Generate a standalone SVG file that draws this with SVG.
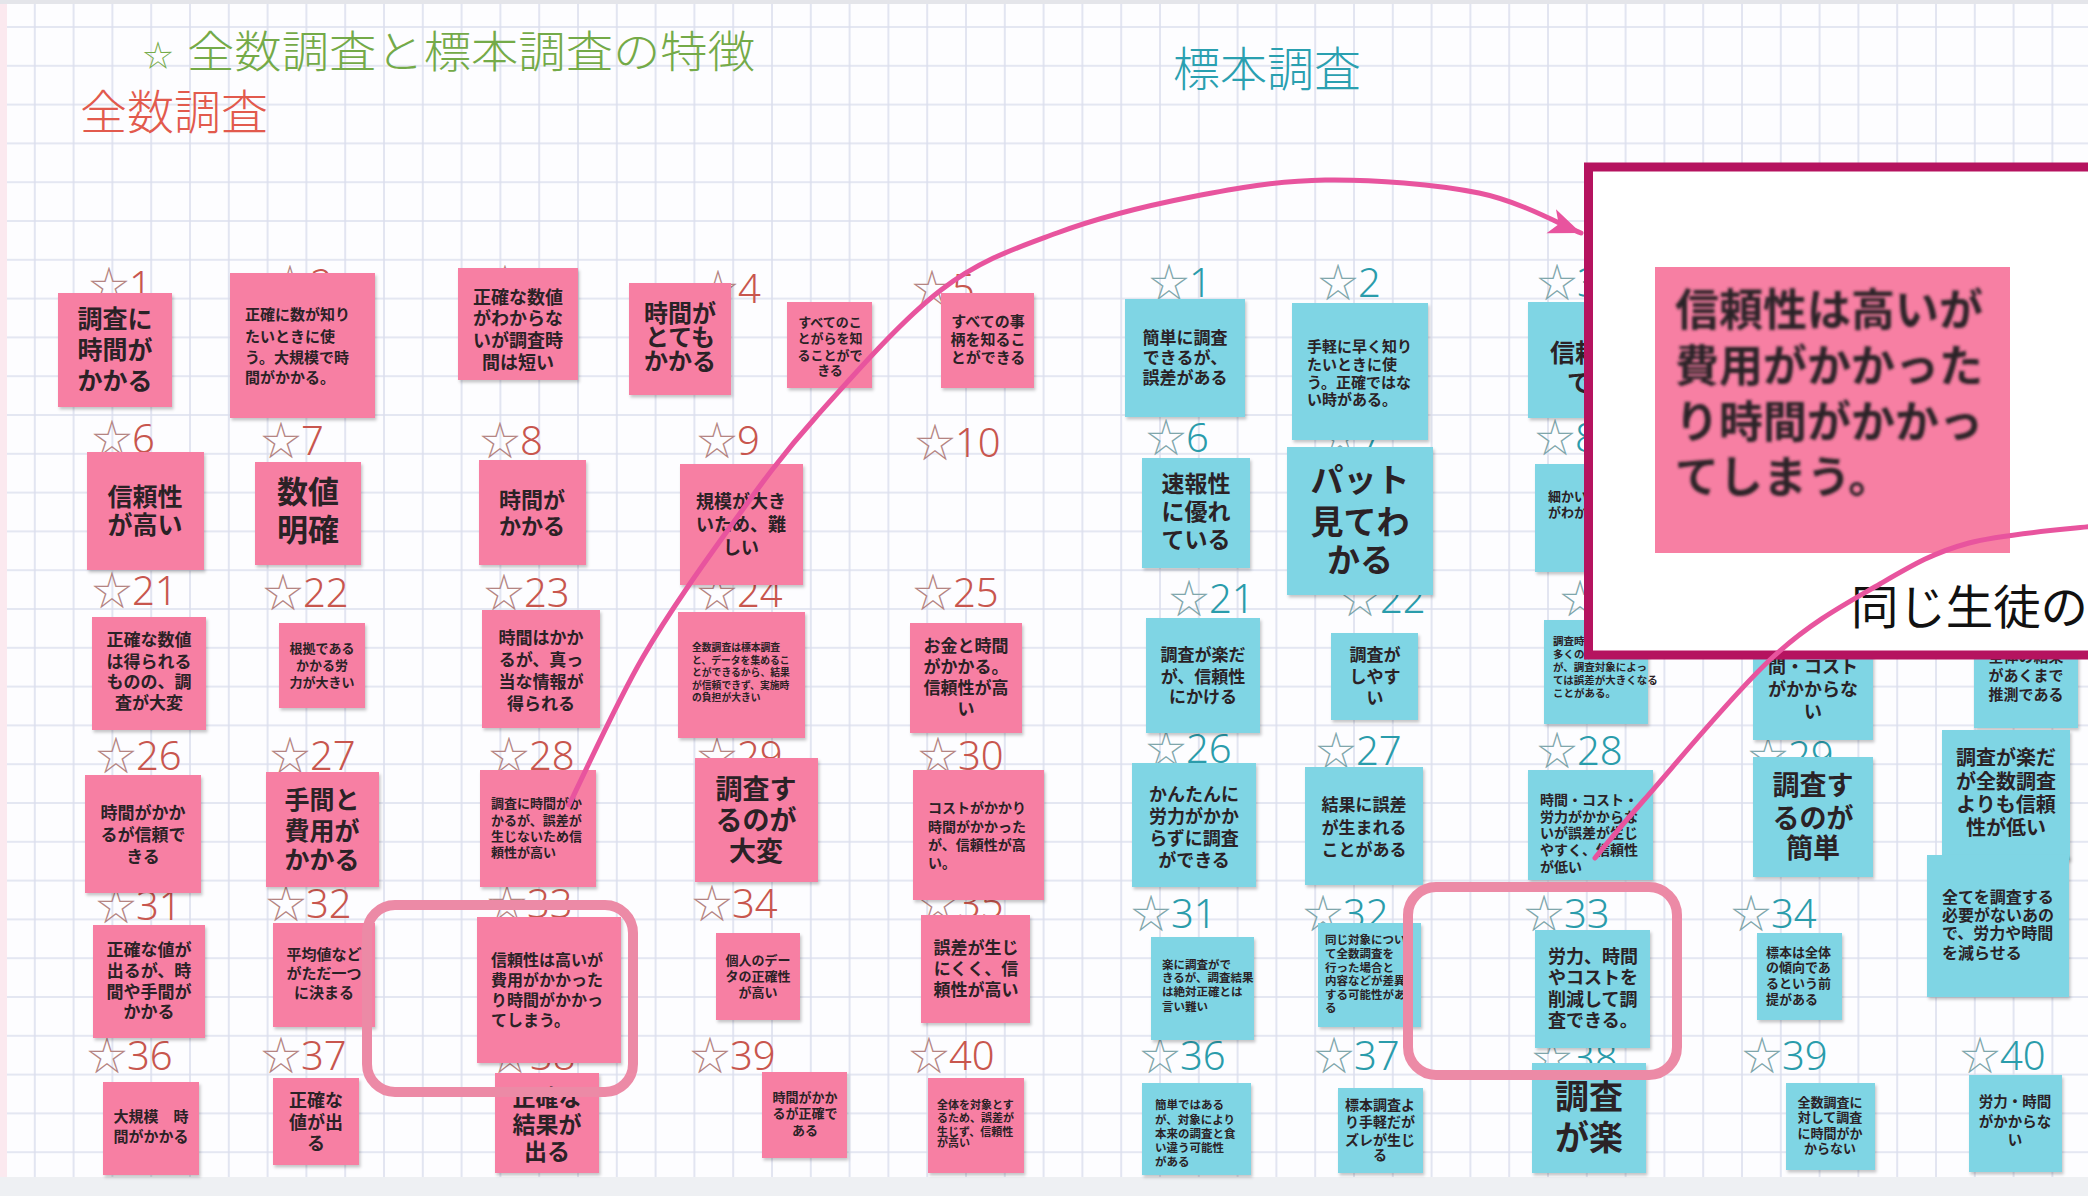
<svg xmlns="http://www.w3.org/2000/svg" width="2088" height="1196" viewBox="0 0 2088 1196">
<defs>
<pattern id="grid" width="38.8" height="38.8" patternUnits="userSpaceOnUse" x="33.8" y="26">
<path d="M1 0V38.8M0 1H38.8" fill="none" stroke="#dcdfee" stroke-width="1.6"/>
</pattern>
<filter id="sh" x="-10%" y="-10%" width="130%" height="130%"><feDropShadow dx="1.5" dy="2.5" stdDeviation="1.5" flood-color="#000" flood-opacity="0.22"/></filter>
<filter id="bl" x="-5%" y="-5%" width="110%" height="110%"><feGaussianBlur stdDeviation="1.4"/></filter>
<marker id="ah" markerUnits="userSpaceOnUse" markerWidth="36" markerHeight="30" refX="32" refY="15" orient="auto"><path d="M0 2 L32 15 L0 28 L8 15 Z" fill="#e8549e"/></marker>
<style>
.pk{fill:#f77fa3;filter:url(#sh)}
.tl{fill:#7fd5e4;filter:url(#sh)}
.nt{font-family:"Noto Sans CJK JP","Noto Sans CJK SC",sans-serif;font-weight:700;fill:#2b2226}
.c{text-anchor:middle}
.lp{font-family:"Noto Sans","Noto Sans CJK JP",sans-serif;font-size:40px;font-weight:300;fill:#c8564e}
.lt{font-family:"Noto Sans","Noto Sans CJK JP",sans-serif;font-size:40px;font-weight:300;fill:#2a9cab}
.sp{fill:#b48482;font-family:"Noto Sans CJK JP",sans-serif}
.st{fill:#7fa6ab;font-family:"Noto Sans CJK JP",sans-serif}
.hl{fill:none;stroke:#ec8aa6;stroke-width:10}
.cn{fill:none;stroke:#e8549e;stroke-width:5;stroke-linecap:round}
.ttl{font-family:"Noto Sans CJK JP","Noto Sans CJK SC",sans-serif;font-weight:300}
</style>
</defs>
<rect width="2088" height="1196" fill="#fdfdff"/>
<rect width="2088" height="1196" fill="url(#grid)"/>
<rect x="0" y="0" width="7" height="1196" fill="#fbe9ef"/>
<rect x="0" y="0" width="2088" height="4" fill="#e4e5ea"/>
<rect x="0" y="1177" width="2088" height="19" fill="#eef0f3"/>

<g id="titles">
<text class="ttl" x="143" y="66" font-size="30" fill="#74aa48">☆</text>
<text class="ttl" x="187" y="68" font-size="44" textLength="568" lengthAdjust="spacingAndGlyphs" fill="#74aa48">全数調査と標本調査の特徴</text>
<text class="ttl" x="80" y="129" font-size="47" textLength="188" lengthAdjust="spacingAndGlyphs" fill="#e25a4d">全数調査</text>
<text class="ttl" x="1173" y="86" font-size="47" textLength="188" lengthAdjust="spacingAndGlyphs" fill="#2aa0b0">標本調査</text>
</g>

<g id="labels">
<text class="lp" x="89" y="300"><tspan class="sp">☆</tspan>1</text>
<text class="lp" x="270" y="298"><tspan class="sp">☆</tspan>2</text>
<text class="lp" x="485" y="298"><tspan class="sp">☆</tspan>3</text>
<text class="lp" x="698" y="303"><tspan class="sp">☆</tspan>4</text>
<text class="lp" x="912" y="303"><tspan class="sp">☆</tspan>5</text>
<text class="lp" x="92" y="453"><tspan class="sp">☆</tspan>6</text>
<text class="lp" x="261" y="455"><tspan class="sp">☆</tspan>7</text>
<text class="lp" x="480" y="455"><tspan class="sp">☆</tspan>8</text>
<text class="lp" x="697" y="455"><tspan class="sp">☆</tspan>9</text>
<text class="lp" x="915" y="457"><tspan class="sp">☆</tspan>10</text>
<text class="lp" x="92" y="605"><tspan class="sp">☆</tspan>21</text>
<text class="lp" x="263" y="607"><tspan class="sp">☆</tspan>22</text>
<text class="lp" x="484" y="607"><tspan class="sp">☆</tspan>23</text>
<text class="lp" x="697" y="607"><tspan class="sp">☆</tspan>24</text>
<text class="lp" x="913" y="607"><tspan class="sp">☆</tspan>25</text>
<text class="lp" x="96" y="770"><tspan class="sp">☆</tspan>26</text>
<text class="lp" x="270" y="770"><tspan class="sp">☆</tspan>27</text>
<text class="lp" x="489" y="770"><tspan class="sp">☆</tspan>28</text>
<text class="lp" x="697" y="770"><tspan class="sp">☆</tspan>29</text>
<text class="lp" x="918" y="770"><tspan class="sp">☆</tspan>30</text>
<text class="lp" x="96" y="920"><tspan class="sp">☆</tspan>31</text>
<text class="lp" x="266" y="918"><tspan class="sp">☆</tspan>32</text>
<text class="lp" x="487" y="918"><tspan class="sp">☆</tspan>33</text>
<text class="lp" x="692" y="918"><tspan class="sp">☆</tspan>34</text>
<text class="lp" x="918" y="918"><tspan class="sp">☆</tspan>35</text>
<text class="lp" x="87" y="1070"><tspan class="sp">☆</tspan>36</text>
<text class="lp" x="261" y="1070"><tspan class="sp">☆</tspan>37</text>
<text class="lp" x="490" y="1070"><tspan class="sp">☆</tspan>38</text>
<text class="lp" x="690" y="1070"><tspan class="sp">☆</tspan>39</text>
<text class="lp" x="909" y="1070"><tspan class="sp">☆</tspan>40</text>
<text class="lt" x="1149" y="297"><tspan class="st">☆</tspan>1</text>
<text class="lt" x="1318" y="297"><tspan class="st">☆</tspan>2</text>
<text class="lt" x="1537" y="297"><tspan class="st">☆</tspan>3</text>
<text class="lt" x="1146" y="452"><tspan class="st">☆</tspan>6</text>
<text class="lt" x="1320" y="452"><tspan class="st">☆</tspan>7</text>
<text class="lt" x="1535" y="452"><tspan class="st">☆</tspan>8</text>
<text class="lt" x="1169" y="613"><tspan class="st">☆</tspan>21</text>
<text class="lt" x="1340" y="613"><tspan class="st">☆</tspan>22</text>
<text class="lt" x="1560" y="613"><tspan class="st">☆</tspan>23</text>
<text class="lt" x="1146" y="763"><tspan class="st">☆</tspan>26</text>
<text class="lt" x="1316" y="765"><tspan class="st">☆</tspan>27</text>
<text class="lt" x="1537" y="765"><tspan class="st">☆</tspan>28</text>
<text class="lt" x="1748" y="770"><tspan class="st">☆</tspan>29</text>
<text class="lt" x="1131" y="928"><tspan class="st">☆</tspan>31</text>
<text class="lt" x="1303" y="928"><tspan class="st">☆</tspan>32</text>
<text class="lt" x="1524" y="928"><tspan class="st">☆</tspan>33</text>
<text class="lt" x="1731" y="928"><tspan class="st">☆</tspan>34</text>
<text class="lt" x="1140" y="1070"><tspan class="st">☆</tspan>36</text>
<text class="lt" x="1314" y="1070"><tspan class="st">☆</tspan>37</text>
<text class="lt" x="1532" y="1072"><tspan class="st">☆</tspan>38</text>
<text class="lt" x="1742" y="1070"><tspan class="st">☆</tspan>39</text>
<text class="lt" x="1960" y="1070"><tspan class="st">☆</tspan>40</text>
</g>

<g id="p1"><rect class="pk" x="58" y="293" width="114" height="114"/><text class="nt c" font-size="25"><tspan x="115" y="328">調査に</tspan><tspan x="115" y="359">時間が</tspan><tspan x="115" y="390">かかる</tspan></text></g>
<g id="p2"><rect class="pk" x="230" y="273" width="145" height="145"/><text class="nt" font-size="15"><tspan x="245" y="320">正確に数が知り</tspan><tspan x="245" y="342">たいときに使</tspan><tspan x="245" y="363">う。大規模で時</tspan><tspan x="245" y="383">間がかかる。</tspan></text></g>
<g id="p3"><rect class="pk" x="458" y="268" width="120" height="112"/><text class="nt c" font-size="18"><tspan x="518" y="304">正確な数値</tspan><tspan x="518" y="325">がわからな</tspan><tspan x="518" y="347">いが調査時</tspan><tspan x="518" y="369">間は短い</tspan></text></g>
<g id="p4"><rect class="pk" x="629" y="283" width="102" height="112"/><text class="nt c" font-size="24"><tspan x="680" y="322">時間が</tspan><tspan x="680" y="346">とても</tspan><tspan x="680" y="370">かかる</tspan></text></g>
<g id="p4b"><rect class="pk" x="787" y="302" width="85" height="86"/><text class="nt c" font-size="13"><tspan x="830" y="327">すべてのこ</tspan><tspan x="830" y="343">とがらを知</tspan><tspan x="830" y="360">ることがで</tspan><tspan x="830" y="375">きる</tspan></text></g>
<g id="p5"><rect class="pk" x="941" y="293" width="93" height="95"/><text class="nt c" font-size="15"><tspan x="988" y="327">すべての事</tspan><tspan x="988" y="345">柄を知るこ</tspan><tspan x="988" y="363">とができる</tspan></text></g>
<g id="p6"><rect class="pk" x="87" y="452" width="117" height="118"/><text class="nt c" font-size="25"><tspan x="145" y="506">信頼性</tspan><tspan x="145" y="534">が高い</tspan></text></g>
<g id="p7"><rect class="pk" x="255" y="462" width="106" height="103"/><text class="nt c" font-size="31"><tspan x="308" y="503">数値</tspan><tspan x="308" y="541">明確</tspan></text></g>
<g id="p8"><rect class="pk" x="479" y="460" width="107" height="105"/><text class="nt c" font-size="22"><tspan x="532" y="508">時間が</tspan><tspan x="532" y="534">かかる</tspan></text></g>
<g id="p9"><rect class="pk" x="680" y="464" width="123" height="121"/><text class="nt c" font-size="18"><tspan x="741" y="508">規模が大き</tspan><tspan x="741" y="531">いため、難</tspan><tspan x="741" y="554">しい</tspan></text></g>
<g id="p21"><rect class="pk" x="92" y="617" width="114" height="113"/><text class="nt c" font-size="17"><tspan x="149" y="646">正確な数値</tspan><tspan x="149" y="668">は得られる</tspan><tspan x="149" y="688">ものの、調</tspan><tspan x="149" y="709">査が大変</tspan></text></g>
<g id="p22"><rect class="pk" x="279" y="623" width="86" height="85"/><text class="nt c" font-size="13"><tspan x="322" y="653">根拠である</tspan><tspan x="322" y="670">かかる労</tspan><tspan x="322" y="687">力が大きい</tspan></text></g>
<g id="p23"><rect class="pk" x="482" y="610" width="118" height="118"/><text class="nt c" font-size="17"><tspan x="541" y="644">時間はかか</tspan><tspan x="541" y="666">るが、真っ</tspan><tspan x="541" y="688">当な情報が</tspan><tspan x="541" y="710">得られる</tspan></text></g>
<g id="p24"><rect class="pk" x="678" y="612" width="127" height="126"/><text class="nt" font-size="9.8"><tspan x="692" y="651">全数調査は標本調査</tspan><tspan x="692" y="663.5">と、データを集めるこ</tspan><tspan x="692" y="676">とができるから、結果</tspan><tspan x="692" y="688.5">が信頼できず、実施時</tspan><tspan x="692" y="701">の負担が大きい</tspan></text></g>
<g id="p25"><rect class="pk" x="910" y="623" width="112" height="110"/><text class="nt c" font-size="17"><tspan x="966" y="652">お金と時間</tspan><tspan x="966" y="673">がかかる。</tspan><tspan x="966" y="694">信頼性が高</tspan><tspan x="966" y="715">い</tspan></text></g>
<g id="p26"><rect class="pk" x="85" y="775" width="116" height="118"/><text class="nt c" font-size="17"><tspan x="143" y="819">時間がかか</tspan><tspan x="143" y="841">るが信頼で</tspan><tspan x="143" y="863">きる</tspan></text></g>
<g id="p27"><rect class="pk" x="266" y="772" width="113" height="115"/><text class="nt c" font-size="25"><tspan x="322" y="809">手間と</tspan><tspan x="322" y="840">費用が</tspan><tspan x="322" y="869">かかる</tspan></text></g>
<g id="p28"><rect class="pk" x="480" y="770" width="116" height="117"/><text class="nt" font-size="13"><tspan x="491" y="808">調査に時間がか</tspan><tspan x="491" y="825">かるが、誤差が</tspan><tspan x="491" y="841">生じないため信</tspan><tspan x="491" y="857">頼性が高い</tspan></text></g>
<g id="p29"><rect class="pk" x="695" y="758" width="123" height="124"/><text class="nt c" font-size="27"><tspan x="756" y="799">調査す</tspan><tspan x="756" y="830">るのが</tspan><tspan x="756" y="861">大変</tspan></text></g>
<g id="p30"><rect class="pk" x="913" y="770" width="131" height="130"/><text class="nt" font-size="14"><tspan x="928" y="813">コストがかかり</tspan><tspan x="928" y="832">時間がかかった</tspan><tspan x="928" y="850">が、信頼性が高</tspan><tspan x="928" y="868">い。</tspan></text></g>
<g id="p31"><rect class="pk" x="93" y="925" width="112" height="113"/><text class="nt c" font-size="17"><tspan x="149" y="956">正確な値が</tspan><tspan x="149" y="977">出るが、時</tspan><tspan x="149" y="998">間や手間が</tspan><tspan x="149" y="1018">かかる</tspan></text></g>
<g id="p32"><rect class="pk" x="273" y="923" width="102" height="104"/><text class="nt c" font-size="15"><tspan x="324" y="960">平均値など</tspan><tspan x="324" y="979">がただ一つ</tspan><tspan x="324" y="998">に決まる</tspan></text></g>
<g id="p33"><rect class="pk" x="477" y="917" width="144" height="146"/><text class="nt" font-size="16"><tspan x="491" y="966">信頼性は高いが</tspan><tspan x="491" y="986">費用がかかった</tspan><tspan x="491" y="1006">り時間がかかっ</tspan><tspan x="491" y="1026">てしまう。</tspan></text></g>
<g id="p34"><rect class="pk" x="716" y="933" width="84" height="87"/><text class="nt c" font-size="13"><tspan x="758" y="965">個人のデー</tspan><tspan x="758" y="981">タの正確性</tspan><tspan x="758" y="997">が高い</tspan></text></g>
<g id="p35"><rect class="pk" x="921" y="915" width="109" height="108"/><text class="nt c" font-size="17"><tspan x="976" y="954">誤差が生じ</tspan><tspan x="976" y="975">にくく、信</tspan><tspan x="976" y="996">頼性が高い</tspan></text></g>
<g id="p36"><rect class="pk" x="103" y="1082" width="96" height="93"/><text class="nt c" font-size="15"><tspan x="151" y="1122">大規模　時</tspan><tspan x="151" y="1142">間がかかる</tspan></text></g>
<g id="p37"><rect class="pk" x="273" y="1078" width="86" height="87"/><text class="nt c" font-size="18"><tspan x="316" y="1107">正確な</tspan><tspan x="316" y="1129">値が出</tspan><tspan x="316" y="1150">る</tspan></text></g>
<g id="p38"><rect class="pk" x="495" y="1073" width="104" height="100"/><text class="nt c" font-size="23"><tspan x="547" y="1106">正確な</tspan><tspan x="547" y="1133">結果が</tspan><tspan x="547" y="1160">出る</tspan></text></g>
<g id="p39"><rect class="pk" x="762" y="1072" width="85" height="86"/><text class="nt c" font-size="13"><tspan x="805" y="1102">時間がかか</tspan><tspan x="805" y="1118">るが正確で</tspan><tspan x="805" y="1135">ある</tspan></text></g>
<g id="p40"><rect class="pk" x="928" y="1078" width="96" height="95"/><text class="nt" font-size="11"><tspan x="937" y="1109">全体を対象とす</tspan><tspan x="937" y="1122">るため、誤差が</tspan><tspan x="937" y="1136">生じず、信頼性</tspan><tspan x="937" y="1147">が高い</tspan></text></g>

<g id="t1"><rect class="tl" x="1125" y="299" width="120" height="118"/><text class="nt c" font-size="17"><tspan x="1185" y="344">簡単に調査</tspan><tspan x="1185" y="364">できるが、</tspan><tspan x="1185" y="384">誤差がある</tspan></text></g>
<g id="t2"><rect class="tl" x="1292" y="303" width="136" height="137"/><text class="nt" font-size="15"><tspan x="1307" y="352">手軽に早く知り</tspan><tspan x="1307" y="370">たいときに使</tspan><tspan x="1307" y="388">う。正確ではな</tspan><tspan x="1307" y="405">い時がある。</tspan></text></g>
<g id="t3"><rect class="tl" x="1528" y="302" width="100" height="116"/><text class="nt" font-size="25"><tspan x="1550" y="362">信頼性</tspan><tspan x="1567" y="392">でない</tspan></text></g>
<g id="t6"><rect class="tl" x="1142" y="458" width="108" height="110"/><text class="nt c" font-size="23"><tspan x="1196" y="492">速報性</tspan><tspan x="1196" y="520">に優れ</tspan><tspan x="1196" y="548">ている</tspan></text></g>
<g id="t7"><rect class="tl" x="1287" y="447" width="146" height="148"/><text class="nt c" font-size="33" font-weight="400"><tspan x="1360" y="492">パット</tspan><tspan x="1360" y="534">見てわ</tspan><tspan x="1360" y="572">かる</tspan></text></g>
<g id="t8"><rect class="tl" x="1535" y="464" width="100" height="108"/><text class="nt" font-size="13"><tspan x="1548" y="501">細かい数値</tspan><tspan x="1548" y="517">がわからない</tspan></text></g>
<g id="t21"><rect class="tl" x="1146" y="618" width="114" height="115"/><text class="nt c" font-size="17"><tspan x="1203" y="661">調査が楽だ</tspan><tspan x="1203" y="683">が、信頼性</tspan><tspan x="1203" y="703">にかける</tspan></text></g>
<g id="t22"><rect class="tl" x="1331" y="633" width="87" height="87"/><text class="nt c" font-size="17"><tspan x="1375" y="661">調査が</tspan><tspan x="1375" y="683">しやす</tspan><tspan x="1375" y="704">い</tspan></text></g>
<g id="t23"><rect class="tl" x="1544" y="620" width="104" height="104"/><text class="nt" font-size="10.5"><tspan x="1553" y="645">調査時間が短く、</tspan><tspan x="1553" y="658">多くの調査ができる</tspan><tspan x="1553" y="671">が、調査対象によっ</tspan><tspan x="1553" y="684">ては誤差が大きくなる</tspan><tspan x="1553" y="697">ことがある。</tspan></text></g>
<g id="t24"><rect class="tl" x="1753" y="600" width="120" height="140"/><text class="nt c" font-size="18"><tspan x="1813" y="651">労力や時</tspan><tspan x="1813" y="673">間・コスト</tspan><tspan x="1813" y="696">がかからな</tspan><tspan x="1813" y="718">い</tspan></text></g>
<g id="t25"><rect class="tl" x="1974" y="600" width="104" height="128"/><text class="nt c" font-size="15"><tspan x="2026" y="643">標本調査は</tspan><tspan x="2026" y="662">全体の結果</tspan><tspan x="2026" y="681">があくまで</tspan><tspan x="2026" y="700">推測である</tspan></text></g>
<g id="t26"><rect class="tl" x="1132" y="763" width="124" height="124"/><text class="nt c" font-size="18"><tspan x="1194" y="801">かんたんに</tspan><tspan x="1194" y="823">労力がかか</tspan><tspan x="1194" y="845">らずに調査</tspan><tspan x="1194" y="867">ができる</tspan></text></g>
<g id="t27"><rect class="tl" x="1305" y="767" width="118" height="118"/><text class="nt c" font-size="17"><tspan x="1364" y="811">結果に誤差</tspan><tspan x="1364" y="834">が生まれる</tspan><tspan x="1364" y="856">ことがある</tspan></text></g>
<g id="t28"><rect class="tl" x="1528" y="770" width="125" height="110"/><text class="nt" font-size="14"><tspan x="1540" y="805">時間・コスト・</tspan><tspan x="1540" y="822">労力がかからな</tspan><tspan x="1540" y="838">いが誤差が生じ</tspan><tspan x="1540" y="855">やすく、信頼性</tspan><tspan x="1540" y="872">が低い</tspan></text></g>
<g id="t29"><rect class="tl" x="1753" y="757" width="120" height="120"/><text class="nt c" font-size="27"><tspan x="1813" y="795">調査す</tspan><tspan x="1813" y="828">るのが</tspan><tspan x="1813" y="858">簡単</tspan></text></g>
<g id="t30"><rect class="tl" x="1942" y="730" width="128" height="130"/><text class="nt c" font-size="20"><tspan x="2006" y="765">調査が楽だ</tspan><tspan x="2006" y="789">が全数調査</tspan><tspan x="2006" y="812">よりも信頼</tspan><tspan x="2006" y="835">性が低い</tspan></text></g>
<g id="t35"><rect class="tl" x="1927" y="855" width="142" height="142"/><text class="nt" font-size="16"><tspan x="1942" y="903">全てを調査する</tspan><tspan x="1942" y="921">必要がないあの</tspan><tspan x="1942" y="939">で、労力や時間</tspan><tspan x="1942" y="959">を減らせる</tspan></text></g>
<g id="t31"><rect class="tl" x="1151" y="937" width="103" height="103"/><text class="nt" font-size="11.5"><tspan x="1162" y="969">楽に調査がで</tspan><tspan x="1162" y="982">きるが、調査結果</tspan><tspan x="1162" y="996">は絶対正確とは</tspan><tspan x="1162" y="1011">言い難い</tspan></text></g>
<g id="t32"><rect class="tl" x="1318" y="923" width="103" height="104"/><text class="nt" font-size="11.5"><tspan x="1325" y="944">同じ対象につい</tspan><tspan x="1325" y="958">て全数調査を</tspan><tspan x="1325" y="972">行った場合と</tspan><tspan x="1325" y="985">内容などが差異</tspan><tspan x="1325" y="999">する可能性があ</tspan><tspan x="1325" y="1012">る</tspan></text></g>
<g id="t33"><rect class="tl" x="1535" y="930" width="115" height="118"/><text class="nt" font-size="18"><tspan x="1548" y="963">労力、時間</tspan><tspan x="1548" y="984">やコストを</tspan><tspan x="1548" y="1006">削減して調</tspan><tspan x="1548" y="1027">査できる。</tspan></text></g>
<g id="t34"><rect class="tl" x="1757" y="933" width="85" height="87"/><text class="nt" font-size="13"><tspan x="1766" y="957">標本は全体</tspan><tspan x="1766" y="972">の傾向であ</tspan><tspan x="1766" y="988">るという前</tspan><tspan x="1766" y="1004">提がある</tspan></text></g>
<g id="t36"><rect class="tl" x="1142" y="1083" width="109" height="92"/><text class="nt" font-size="11.5"><tspan x="1155" y="1109">簡単ではある</tspan><tspan x="1155" y="1124">が、対象により</tspan><tspan x="1155" y="1138">本来の調査と食</tspan><tspan x="1155" y="1152">い違う可能性</tspan><tspan x="1155" y="1166">がある</tspan></text></g>
<g id="t37"><rect class="tl" x="1338" y="1088" width="85" height="85"/><text class="nt c" font-size="14"><tspan x="1380" y="1110">標本調査よ</tspan><tspan x="1380" y="1127">り手軽だが</tspan><tspan x="1380" y="1145">ズレが生じ</tspan><tspan x="1380" y="1160">る</tspan></text></g>
<g id="t38"><rect class="tl" x="1532" y="1063" width="114" height="110"/><text class="nt c" font-size="34"><tspan x="1589" y="1109">調査</tspan><tspan x="1589" y="1150">が楽</tspan></text></g>
<g id="t39"><rect class="tl" x="1786" y="1083" width="89" height="87"/><text class="nt c" font-size="13"><tspan x="1830" y="1107">全数調査に</tspan><tspan x="1830" y="1122">対して調査</tspan><tspan x="1830" y="1138">に時間がか</tspan><tspan x="1830" y="1153">からない</tspan></text></g>
<g id="t40"><rect class="tl" x="1969" y="1075" width="93" height="97"/><text class="nt c" font-size="14.5"><tspan x="2015" y="1107">労力・時間</tspan><tspan x="2015" y="1127">がかからな</tspan><tspan x="2015" y="1145">い</tspan></text></g>

<g id="highlights">
<rect class="hl" x="367" y="905" width="266" height="187" rx="28"/>
<rect class="hl" x="1408" y="887" width="269" height="188" rx="28"/>
</g>

<g id="zoom-panel">
<rect x="1588.5" y="167" width="520" height="488" fill="#ffffff" stroke="#b5135f" stroke-width="9"/>
<rect x="1655" y="267" width="355" height="286" fill="#f77fa3"/>
<text class="nt" font-size="44" fill="#3a1d2b" filter="url(#bl)"><tspan x="1675" y="326">信頼性は高いが</tspan><tspan x="1675" y="382">費用がかかった</tspan><tspan x="1675" y="438">り時間がかかっ</tspan><tspan x="1675" y="493">てしまう。</tspan></text>
<text x="1851" y="624" font-family="Noto Sans CJK JP, sans-serif" font-size="47" fill="#111" textLength="237" lengthAdjust="spacingAndGlyphs">同じ生徒の</text>
</g>

<g id="connectors">
<path class="cn" marker-end="url(#ah)" d="M569 805 C581.3 780.3 615.7 704 643 657 C670.3 610 704.2 563 733 523 C761.8 483 781.3 455.8 816 417 C850.7 378.2 900.8 320.7 941 290 C981.2 259.3 1015.3 248.5 1057 233 C1098.7 217.5 1146.3 205.8 1191 197 C1235.7 188.2 1277 180.7 1325 180 C1373 179.3 1436.3 184.2 1479 193 C1521.7 201.8 1564 226.3 1581 233"/>
<path class="cn" d="M1595 858 C1603.2 848.3 1614.3 833.5 1644 800 C1673.7 766.5 1733.7 693 1773 657 C1812.3 621 1847.3 603 1880 584 C1912.7 565 1933.2 552.7 1969 543 C2004.8 533.3 2074 528.8 2095 526"/>
</g>
</svg>
